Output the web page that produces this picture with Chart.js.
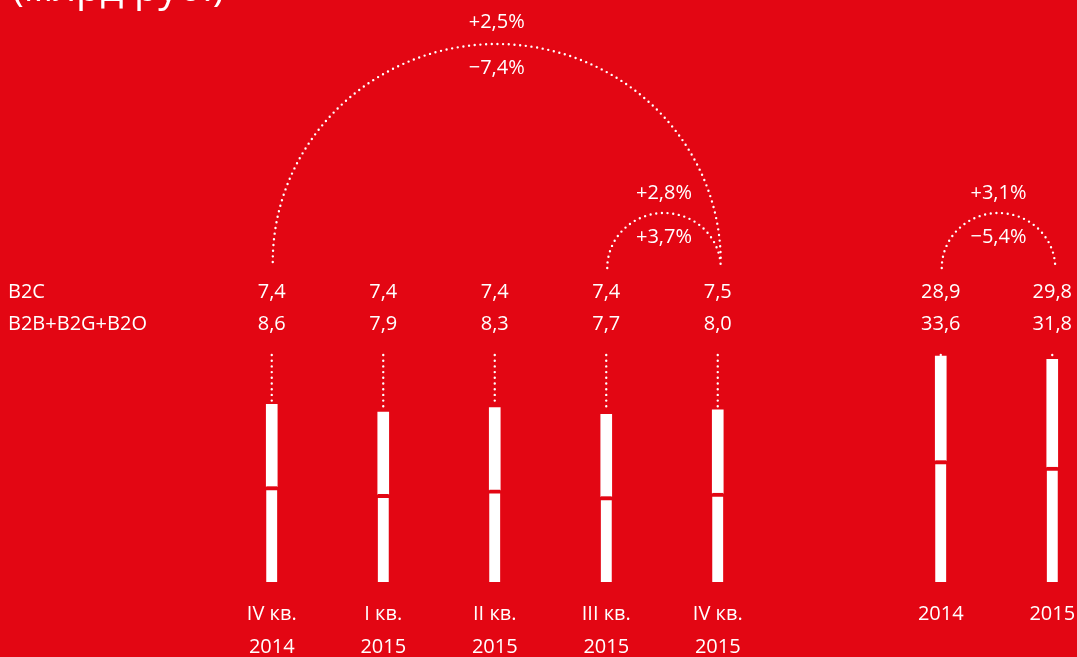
<!DOCTYPE html>
<html lang="ru">
<head>
<meta charset="utf-8">
<script src="https://cdn.jsdelivr.net/npm/chart.js@4"></script>
<style>
  html, body { margin: 0; padding: 0; background: #E30613; overflow: hidden; }
  #wrap { width: 1077px; height: 657px; overflow: hidden; position: relative; }
</style>
</head>
<body>
<div id="wrap"><canvas id="revenueChart" width="1110" height="680"></canvas></div>
<script>
// выручка по сегментам, млрд руб.

const RED = "#E30613";
const WHITE = "#ffffff";
const FONT = "'Open Sans', 'Noto Sans', sans-serif";

const periodLabels = [["IV кв.", "2014"], ["I кв.", "2015"], ["II кв.", "2015"], ["III кв.", "2015"], ["IV кв.", "2015"], "", ["2014"], ["2015"]];
const quarterB2C = [7.4, 7.4, 7.4, 7.4, 7.5];
const quarterB2B = [8.6, 7.9, 8.3, 7.7, 8.0];
const yearB2C = [28.9, 29.8];
const yearB2B = [33.6, 31.8];
const rowLabels = ["B2C", "B2B+B2G+B2O"];

// дуги сравнения: [индекс слева, индекс справа, верхняя подпись, нижняя подпись]
const arcs = [
  { from: 0, to: 4, upper: "+2,5%", lower: "−7,4%" },
  { from: 3, to: 4, upper: "+2,8%", lower: "+3,7%" },
  { from: 6, to: 7, upper: "+3,1%", lower: "−5,4%" }
];

const fmt = v => v.toFixed(1).replace(".", ",");

const pad = (arr, before, total) => {
  const out = new Array(before).fill(null).concat(arr);
  while (out.length < total) out.push(null);
  return out;
};

const n = periodLabels.length;
const allB2C = quarterB2C.concat([null], yearB2C);
const allB2B = quarterB2B.concat([null], yearB2B);

const gapBorder = { top: 4, right: 0, bottom: 0, left: 0 };

const overlayPlugin = {
  id: "overlay",
  afterDatasetsDraw(chart) {
    const { ctx, scales } = chart;
    const xs = i => scales.x.getPixelForValue(i);
    const qTop = chart.getDatasetMeta(1).data;
    const aTop = chart.getDatasetMeta(3).data;

    ctx.save();
    ctx.fillStyle = WHITE;
    ctx.strokeStyle = WHITE;

    // заголовок, обрезанный сверху
    ctx.font = "40px " + FONT;
    ctx.textAlign = "left";
    ctx.textBaseline = "alphabetic";
    ctx.fillText("(млрд руб.)", 12, 1);

    // подписи строк
    ctx.font = "20px " + FONT;
    ctx.textBaseline = "middle";
    ctx.fillText(rowLabels[0], 8, 292);
    ctx.fillText(rowLabels[1], 8, 324);

    // значения над столбцами
    ctx.textAlign = "center";
    for (let i = 0; i < n; i++) {
      if (allB2C[i] == null) continue;
      ctx.fillText(fmt(allB2C[i]), xs(i), 292);
      ctx.fillText(fmt(allB2B[i]), xs(i), 324);
    }

    // пунктир от подписей к столбцам
    ctx.lineWidth = 2.4;
    ctx.lineCap = "round";
    ctx.setLineDash([0, 5.7]);
    for (let i = 0; i < n; i++) {
      if (allB2C[i] == null) continue;
      const el = i < 5 ? qTop[i] : aTop[i];
      ctx.beginPath();
      ctx.moveTo(xs(i), 355);
      ctx.lineTo(xs(i), Math.max(355, el.y - 3));
      ctx.stroke();
    }

    // дуги
    arcs.forEach(a => {
      const x1 = xs(a.from) + 1;
      const x2 = xs(a.to) + 3;
      const cx = (x1 + x2) / 2;
      const rx = (x2 - x1) / 2;
      const big = rx > 100;
      const baseY = big ? 262 : 268;
      const ry = big ? 218 : 55;
      ctx.beginPath();
      ctx.ellipse(cx, baseY, rx, ry, 0, Math.PI, 2 * Math.PI);
      ctx.stroke();
      if (big) {
        ctx.fillText(a.upper, cx, 22);
        ctx.fillText(a.lower, cx, 68);
      } else {
        ctx.fillText(a.upper, cx, 193);
        ctx.fillText(a.lower, cx, 237);
      }
    });
    ctx.restore();
  }
};

new Chart(document.getElementById("revenueChart").getContext("2d"), {
  type: "bar",
  data: {
    labels: periodLabels,
    datasets: [
      {
        label: "B2B+B2G+B2O",
        data: pad(quarterB2B, 0, n),
        yAxisID: "y",
        stack: "all",
        backgroundColor: WHITE,
        borderColor: RED,
        borderWidth: gapBorder,
        borderSkipped: false
      },
      {
        label: "B2C",
        data: pad(quarterB2C, 0, n),
        yAxisID: "y",
        stack: "all",
        backgroundColor: WHITE,
        borderWidth: 0
      },
      {
        label: "B2B+B2G+B2O (год)",
        data: pad(yearB2B, 6, n),
        yAxisID: "y2",
        stack: "all",
        backgroundColor: WHITE,
        borderColor: RED,
        borderWidth: gapBorder,
        borderSkipped: false
      },
      {
        label: "B2C (год)",
        data: pad(yearB2C, 6, n),
        yAxisID: "y2",
        stack: "all",
        backgroundColor: WHITE,
        borderWidth: 0
      }
    ]
  },
  options: {
    responsive: false,
    animation: false,
    layout: { padding: { left: 216, right: 2, top: 300, bottom: 0 } },
    datasets: { bar: { barThickness: 11 } },
    plugins: { legend: { display: false }, tooltip: { enabled: false } },
    scales: {
      x: {
        stacked: true,
        grid: { display: false, drawTicks: false },
        border: { display: false },
        ticks: {
          color: WHITE,
          autoSkip: false,
          maxRotation: 0,
          padding: 16,
          font: { family: FONT, size: 20, lineHeight: 1.65 }
        }
      },
      y: { stacked: true, display: false, min: 0, max: 25.4 },
      y2: { stacked: true, display: false, min: 0, max: 78 }
    }
  },
  plugins: [overlayPlugin]
});
</script>
</body>
</html>
